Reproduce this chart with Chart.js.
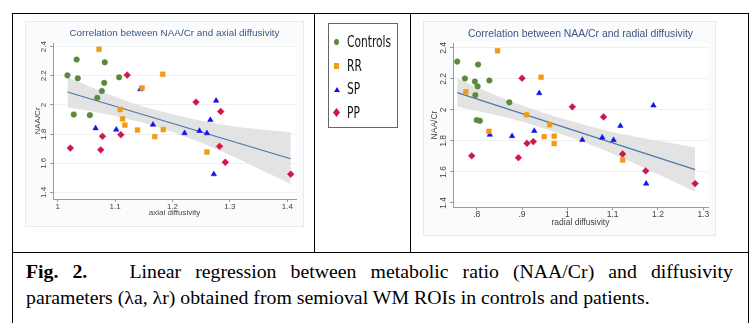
<!DOCTYPE html>
<html>
<head>
<meta charset="utf-8">
<script src="https://cdn.jsdelivr.net/npm/chart.js@4.4.1/dist/chart.umd.min.js"></script>
<style>
  body { margin: 0; background: #fff; width: 752px; height: 323px; overflow: hidden; position: relative; }
  .ln { position: absolute; background: #000; }
  .plot { position: absolute; outline: 1px solid #e3ebee; }
  .legend { position: absolute; left: 328px; top: 23px; width: 70px; height: 105px; box-sizing: border-box;
    border: 1px solid #666; font-family: "Liberation Sans Narrow", "DejaVu Sans Condensed", sans-serif; font-size: 15px; color: #111; }
  .legend .row { position: absolute; left: 0; height: 18px; line-height: 18px; }
  .legend .mk { position: absolute; left: 5px; top: 6px; }
  .legend .tx { position: absolute; left: 18px; top: 0; white-space: nowrap; transform: scaleX(0.79); transform-origin: 0 50%; }
  .caption { position: absolute; left: 26px; top: 258px; width: 707px; font-family: "Liberation Serif", "Times New Roman", serif;
    font-size: 19.8px; line-height: 26px; color: #000; }
  .caption .l1 { text-align: justify; text-align-last: justify; }
</style>
</head>
<body>
<div class="ln" style="left:12px;top:13px;width:737px;height:1px"></div>
<div class="ln" style="left:12px;top:13px;width:1px;height:320px"></div>
<div class="ln" style="left:748px;top:13px;width:1px;height:320px"></div>
<div class="ln" style="left:314px;top:13px;width:1px;height:239px"></div>
<div class="ln" style="left:410px;top:13px;width:1px;height:239px"></div>
<div class="ln" style="left:12px;top:252px;width:737px;height:1px"></div>

<div class="plot" style="left:26px;top:22px;width:277px;height:204px"><canvas id="axial" width="277" height="204"></canvas></div>
<div class="plot" style="left:424px;top:22px;width:291px;height:213px"><canvas id="radial" width="291" height="213"></canvas></div>
<div class="legend" id="legend"></div>

<div class="caption">
  <div class="l1"><b>Fig. 2.</b>&nbsp;&nbsp; Linear regression between metabolic ratio (NAA/Cr) and diffusivity</div>
  <div>parameters (λa, λr) obtained from semioval WM ROIs in controls and patients.</div>
</div>

<script>
const groups = ['Controls', 'RR', 'SP', 'PP'];
const groupColors = ['#5b8a3a', '#f29b17', '#1010f0', '#d3134c'];
const groupShapes = ['circle', 'rect', 'triangle', 'rectRot'];
const groupSizes = [2.8, 3.4, 3.2, 3.4];

const yTicks = [1.4, 1.6, 1.8, 2, 2.2, 2.4];
const yTickLabels = ['1.4', '1.6', '1.8', '2', '2.2', '2.4'];
const axialTicks = [1, 1.1, 1.2, 1.3, 1.4];
const axialTickLabels = ['1', '1.1', '1.2', '1.3', '1.4'];
const radialTicks = [0.8, 0.9, 1, 1.1, 1.2, 1.3];
const radialTickLabels = ['.8', '.9', '1', '1.1', '1.2', '1.3'];

// NAA/Cr with axial and radial diffusivity per subject
const controlsNaa = [2.203, 2.312, 2.183, 1.935, 1.930, 2.049, 2.096, 2.152, 2.293, 2.190];
const controlsAxial = [1.017, 1.033, 1.035, 1.028, 1.056, 1.069, 1.077, 1.081, 1.082, 1.107];
const controlsRadial = [0.774, 0.757, 0.796, 0.800, 0.807, 0.872, 0.797, 0.802, 0.803, 0.828];

const rrNaa = [2.382, 2.211, 2.117, 1.969, 1.905, 1.862, 1.828, 1.831, 1.783, 1.677];
const rrAxial = [1.072, 1.183, 1.147, 1.109, 1.113, 1.117, 1.139, 1.184, 1.169, 1.260];
const rrRadial = [0.846, 0.942, 0.776, 0.910, 0.961, 0.827, 0.949, 0.971, 0.971, 1.122];

const spNaa = [1.840, 1.831, 2.108, 1.865, 1.807, 1.822, 1.806, 1.897, 2.029, 1.525];
const spAxial = [1.066, 1.102, 1.144, 1.166, 1.221, 1.247, 1.260, 1.266, 1.276, 1.272];
const spRadial = [0.829, 0.878, 0.938, 0.927, 1.033, 1.077, 1.102, 1.117, 1.190, 1.174];

const ppNaa = [1.704, 1.785, 1.692, 1.796, 2.205, 2.020, 1.955, 1.716, 1.607, 1.525];
const ppAxial = [1.022, 1.078, 1.075, 1.110, 1.121, 1.241, 1.284, 1.282, 1.292, 1.406];
const ppRadial = [0.789, 0.911, 0.892, 0.925, 0.900, 1.011, 1.080, 1.122, 1.173, 1.282];

// fitted line and 95% band
const axialFitX = [1.017, 1.406];
const axialFitY = [2.089, 1.631];
const axialBandX = [1.017, 1.06, 1.1, 1.15, 1.2, 1.25, 1.3, 1.35, 1.406];
const axialBandHigh = [2.192, 2.120, 2.057, 1.988, 1.936, 1.891, 1.857, 1.833, 1.812];
const axialBandLow = [1.984, 1.956, 1.925, 1.876, 1.814, 1.740, 1.656, 1.562, 1.458];

const radialFitX = [0.757, 1.282];
const radialFitY = [2.112, 1.615];
const radialBandX = [0.757, 0.8, 0.85, 0.9, 0.95, 1.0, 1.05, 1.1, 1.15, 1.2, 1.282];
const radialBandHigh = [2.203, 2.147, 2.086, 2.030, 1.979, 1.936, 1.895, 1.858, 1.828, 1.801, 1.758];
const radialBandLow = [2.021, 1.995, 1.962, 1.924, 1.879, 1.830, 1.777, 1.717, 1.652, 1.585, 1.472];

const naaByGroup = [controlsNaa, rrNaa, spNaa, ppNaa];
const axialByGroup = [controlsAxial, rrAxial, spAxial, ppAxial];
const radialByGroup = [controlsRadial, rrRadial, spRadial, ppRadial];

const pairs = (xs, ys) => xs.map((x, i) => ({ x, y: ys[i] }));
const FONT = '"Liberation Sans", Arial, sans-serif';

const stataLook = {
  id: 'stataLook',
  beforeDraw(chart, args, opts) {
    const { ctx, chartArea: a } = chart;
    ctx.save();
    ctx.fillStyle = '#f9fbfc';
    ctx.fillRect(0, 0, chart.width, chart.height);
    ctx.fillStyle = '#ffffff';
    ctx.fillRect(a.left, a.top, a.right - a.left, a.bottom - a.top);
    ctx.restore();
  },
  afterDraw(chart, args, opts) {
    const { ctx, chartArea: a } = chart;
    ctx.save();
    ctx.font = opts.size + 'px ' + FONT;
    ctx.fillStyle = '#3d5683';
    ctx.textAlign = 'center';
    ctx.textBaseline = 'middle';
    ctx.fillText(opts.text, (a.left + a.right) / 2, opts.y);
    ctx.restore();
  }
};

function makeChart(id, s) {
  const datasets = groups.map((g, k) => ({
    label: g,
    data: pairs(s.xs[k], naaByGroup[k]),
    pointStyle: groupShapes[k],
    pointRadius: groupSizes[k],
    backgroundColor: groupColors[k],
    borderColor: groupColors[k],
    borderWidth: 0.5
  }));
  datasets.push({
    type: 'line', data: pairs(s.fitX, s.fitY),
    borderColor: '#4a78a8', borderWidth: 1.1, pointRadius: 0, fill: false
  });
  datasets.push({
    type: 'line', data: pairs(s.bandX, s.bandHigh),
    borderWidth: 0, borderColor: 'rgba(0,0,0,0)', pointRadius: 0, fill: false, tension: 0.3
  });
  datasets.push({
    type: 'line', data: pairs(s.bandX, s.bandLow),
    borderWidth: 0, borderColor: 'rgba(0,0,0,0)', pointRadius: 0, fill: '-1',
    backgroundColor: '#e3e3e3', tension: 0.3
  });

  return new Chart(document.getElementById(id), {
    type: 'scatter',
    data: { datasets },
    plugins: [stataLook],
    options: {
      responsive: false,
      animation: false,
      layout: { padding: { left: 0, right: 7, top: 21, bottom: 0 } },
      plugins: {
        legend: { display: false },
        tooltip: { enabled: false },
        stataLook: { text: s.title, size: s.titleSize, y: s.titleY }
      },
      scales: {
        x: {
          type: 'linear', min: s.xMin, max: s.xMax,
          afterBuildTicks: ax => { ax.ticks = s.xTicks.map(v => ({ value: v })); },
          afterFit: ax => { ax.height = s.xHeight; },
          ticks: { callback: (v, i) => s.xLabels[i], color: '#444', font: { family: FONT, size: s.tickSize }, padding: 0, maxRotation: 0 },
          grid: { drawOnChartArea: false, tickLength: 3, tickColor: '#9a9a9a' },
          border: { color: '#9a9a9a', width: 1 },
          title: { display: true, text: s.xTitle, color: '#444', font: { family: FONT, size: s.tickSize }, padding: { top: 0, bottom: s.xTitlePad } }
        },
        y: {
          type: 'linear', min: s.yMin, max: s.yMax,
          afterBuildTicks: ax => { ax.ticks = yTicks.map(v => ({ value: v })); },
          afterFit: ax => { ax.width = s.yWidth; },
          ticks: { callback: (v, i) => yTickLabels[i], color: '#444', font: { family: FONT, size: s.tickSize },
            minRotation: 90, maxRotation: 90, crossAlign: 'center', padding: s.yTickPad },
          grid: { color: '#edf2f3', tickLength: 3, tickColor: '#9a9a9a' },
          border: { color: '#9a9a9a', width: 1 },
          title: { display: true, text: 'NAA/Cr', color: '#444', font: { family: FONT, size: s.tickSize }, padding: { top: s.yTitlePad, bottom: 0 } }
        }
      }
    }
  });
}

makeChart('axial', {
  xs: axialByGroup, fitX: axialFitX, fitY: axialFitY,
  bandX: axialBandX, bandHigh: axialBandHigh, bandLow: axialBandLow,
  title: 'Correlation between NAA/Cr and axial diffusivity', titleSize: 9.9, titleY: 11.3,
  xMin: 0.9918, xMax: 1.4152, yMin: 1.355, yMax: 2.425,
  xTicks: axialTicks, xLabels: axialTickLabels, xTitle: 'axial diffusivity',
  tickSize: 8, xHeight: 27, xTitlePad: 8.7, yWidth: 27, yTickPad: 1, yTitlePad: 7.2
});

makeChart('radial', {
  xs: radialByGroup, fitX: radialFitX, fitY: radialFitY,
  bandX: radialBandX, bandHigh: radialBandHigh, bandLow: radialBandLow,
  title: 'Correlation between NAA/Cr and radial diffusivity', titleSize: 10.4, titleY: 12.3,
  xMin: 0.7477, xMax: 1.3104, yMin: 1.374, yMax: 2.432,
  xTicks: radialTicks, xLabels: radialTickLabels, xTitle: 'radial diffusivity',
  tickSize: 8.5, xHeight: 28, xTitlePad: 7.6, yWidth: 29, yTickPad: 0.8, yTitlePad: 5.9
});

// legend cell
const legendTops = [10, 34, 57, 81];
const legendBox = document.getElementById('legend');
groups.forEach((g, k) => {
  const row = document.createElement('div');
  row.className = 'row';
  row.style.top = (legendTops[k] - 1) + 'px';
  const mk = document.createElement('div');
  mk.className = 'mk';
  const c = groupColors[k];
  if (groupShapes[k] === 'circle') {
    Object.assign(mk.style, { width: '5px', height: '6px', borderRadius: '50%', background: c });
  } else if (groupShapes[k] === 'rect') {
    Object.assign(mk.style, { width: '5px', height: '6px', background: c });
  } else if (groupShapes[k] === 'triangle') {
    Object.assign(mk.style, { width: 0, height: 0, borderLeft: '3px solid transparent', borderRight: '3px solid transparent', borderBottom: '5px solid ' + c, top: '7px' });
  } else {
    Object.assign(mk.style, { width: '5px', height: '5px', background: c, transform: 'scaleY(1.3) rotate(45deg)' });
  }
  const tx = document.createElement('div');
  tx.className = 'tx';
  tx.textContent = g;
  row.appendChild(mk);
  row.appendChild(tx);
  legendBox.appendChild(row);
});
</script>
</body>
</html>
